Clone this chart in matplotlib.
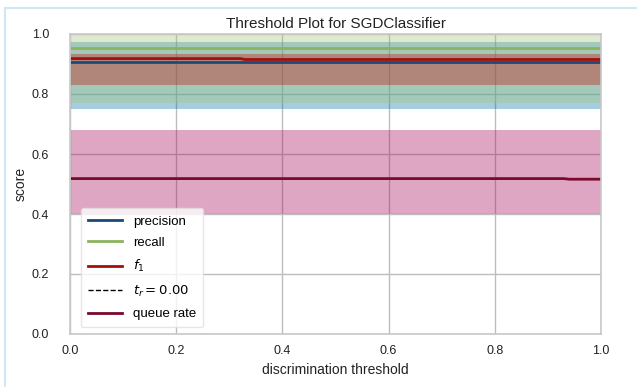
import matplotlib
matplotlib.use("Agg")
import matplotlib.pyplot as plt
from matplotlib.lines import Line2D

# ---- data ----
thresholds = [0.0, 0.2, 0.32, 0.33, 0.6, 0.8, 0.93, 0.94, 1.0]
precision = [0.907, 0.907, 0.907, 0.907, 0.907, 0.907, 0.907, 0.907, 0.907]
precision_lo = [0.75, 0.75, 0.75, 0.75, 0.75, 0.75, 0.75, 0.75, 0.75]
precision_hi = [0.975, 0.975, 0.975, 0.975, 0.975, 0.975, 0.975, 0.975, 0.975]
recall = [0.954, 0.954, 0.954, 0.954, 0.954, 0.954, 0.954, 0.954, 0.954]
recall_lo = [0.77, 0.77, 0.77, 0.77, 0.77, 0.77, 0.77, 0.77, 0.77]
recall_hi = [1.0, 1.0, 1.0, 1.0, 1.0, 1.0, 1.0, 1.0, 1.0]
f1 = [0.918, 0.918, 0.918, 0.915, 0.915, 0.915, 0.915, 0.915, 0.915]
f1_lo = [0.83, 0.83, 0.83, 0.83, 0.83, 0.83, 0.83, 0.83, 0.83]
f1_hi = [0.932, 0.932, 0.932, 0.932, 0.932, 0.932, 0.932, 0.932, 0.932]
queue = [0.518, 0.518, 0.518, 0.518, 0.518, 0.518, 0.518, 0.516, 0.516]
queue_lo = [0.40, 0.40, 0.40, 0.40, 0.40, 0.40, 0.40, 0.40, 0.40]
queue_hi = [0.68, 0.68, 0.68, 0.68, 0.68, 0.68, 0.68, 0.68, 0.68]
threshold_value = 0.0

ticks = [0.0, 0.2, 0.4, 0.6, 0.8, 1.0]

plt.rcParams['font.family'] = ['Liberation Sans', 'DejaVu Sans']

fig = plt.figure(figsize=(6.37, 3.87), dpi=100)
ax = fig.add_axes([70/637, 1-334/387, 531/637, 300/387])

band_cols = ["#0272a2", "#9fc377", "#ca0b03", "#a50258"]
line_cols = ["#1a4a7c", "#8db35e", "#a3100c", "#7a0a2a"]

series = [
    ("precision", precision, precision_lo, precision_hi),
    ("recall", recall, recall_lo, recall_hi),
    ("$f_1$", f1, f1_lo, f1_hi),
]
handles = []
for (lab, y, lo, hi), bc, lc in zip(series, band_cols[:3], line_cols[:3]):
    ax.fill_between(thresholds, lo, hi, color=bc, alpha=0.35, lw=0)
    h, = ax.plot(thresholds, y, color=lc, lw=2, label=lab)
    handles.append(h)

# threshold marker line (lies on the left spine)
ax.axvline(threshold_value, color='#c8c8c8', lw=1.2, zorder=3)
thr_handle = Line2D([], [], color='k', ls='--', lw=1,
                    label="$t_r={:0.2f}$".format(threshold_value))
handles.append(thr_handle)

ax.fill_between(thresholds, queue_lo, queue_hi, color=band_cols[3], alpha=0.35, lw=0)
h, = ax.plot(thresholds, queue, color=line_cols[3], lw=2, label="queue rate")
handles.append(h)

ax.set_xlim(0, 1)
ax.set_ylim(0, 1)
ax.set_xticks(ticks)
ax.set_yticks(ticks)
ax.tick_params(labelsize=9, length=0, colors='#222222')
ax.tick_params(axis='x', pad=8)
ax.tick_params(axis='y', pad=15)
ax.grid(True, color='#bdbdbd', lw=1)
ax.set_axisbelow(True)
for s in ax.spines.values():
    s.set_color('#c8c8c8')
    s.set_linewidth(1.2)

ax.set_title("Threshold Plot for SGDClassifier", fontsize=11, pad=4, color='#222222')
ax.set_xlabel("discrimination threshold", fontsize=10, labelpad=4, color='#222222')
ax.set_ylabel("score", fontsize=10, labelpad=3, color='#222222')

leg = ax.legend(handles=handles, loc='lower left', fontsize=9.5, frameon=True,
                framealpha=0.8, edgecolor='#e0e0e0', handlelength=2.6,
                borderpad=0.55, labelspacing=0.7, bbox_to_anchor=(0.008, 0.0))

# light blue screenshot border (left and top)
fig.add_artist(Line2D([5/637, 5/637], [0, 1-8/387], transform=fig.transFigure,
                      color='#cfe8f7', lw=1.5))
fig.add_artist(Line2D([5/637, 1], [1-8/387, 1-8/387], transform=fig.transFigure,
                      color='#cfe8f7', lw=1.5))

fig.savefig("out.png", dpi=100)
